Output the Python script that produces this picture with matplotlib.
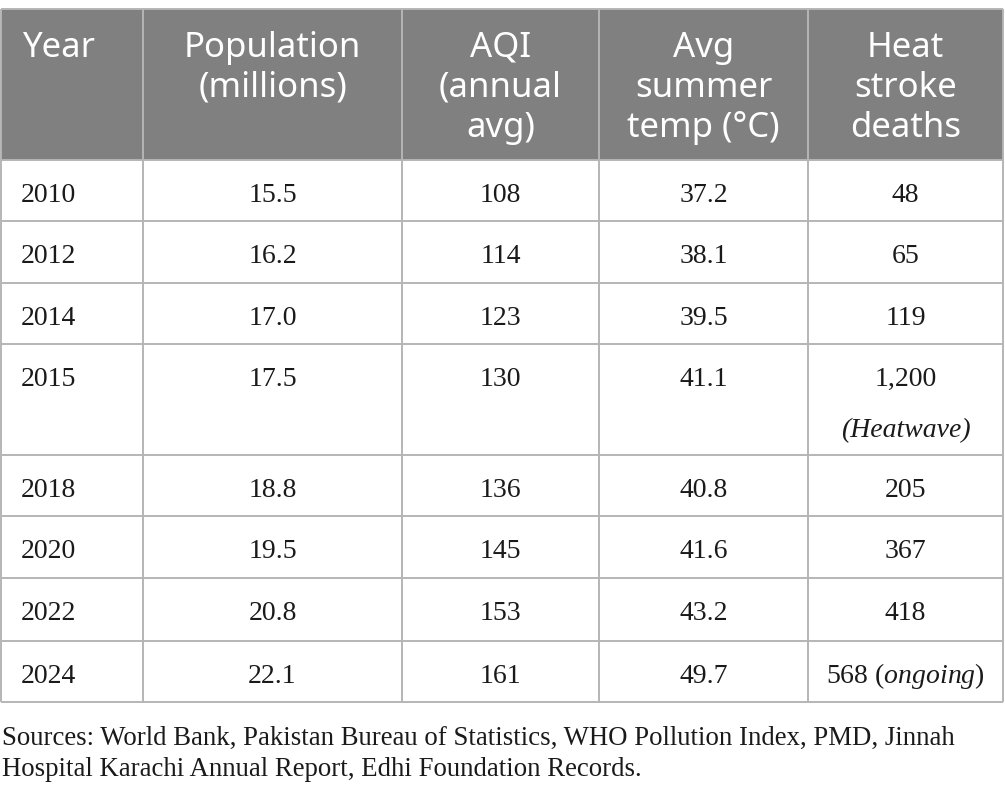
import matplotlib
matplotlib.use("Agg")
import matplotlib.pyplot as plt

plt.rcParams['mathtext.fontset'] = 'custom'
plt.rcParams['mathtext.rm'] = 'Liberation Serif'
plt.rcParams['mathtext.it'] = 'Liberation Serif:italic'

# ---- data ----
headers = [["Year"], ["Population", "(millions)"], ["AQI", "(annual", "avg)"],
           ["Avg", "summer", "temp (°C)"], ["Heat", "stroke", "deaths"]]
years = ["2010", "2012", "2014", "2015", "2018", "2020", "2022", "2024"]
population = ["15.5", "16.2", "17.0", "17.5", "18.8", "19.5", "20.8", "22.1"]
aqi = ["108", "114", "123", "130", "136", "145", "153", "161"]
temp = ["37.2", "38.1", "39.5", "41.1", "40.8", "41.6", "43.2", "49.7"]
deaths = ["48", "65", "119", "1,200", "205", "367", "418", r"568 ($\mathit{ongoing}$)"]
death_notes = ["", "", "", "(Heatwave)", "", "", "", ""]
sources = ["Sources: World Bank, Pakistan Bureau of Statistics, WHO Pollution Index, PMD, Jinnah",
           "Hospital Karachi Annual Report, Edhi Foundation Records."]

# ---- layout (pixel coordinates) ----
W, H = 1005, 795
col_edges = [1, 143, 402, 599, 808, 1003]
table_top = 9
header_bottom = 160
row_edges = [160, 221, 283, 344, 455, 516, 578, 641, 702]
header_bg = "#808080"
grid_col = "#b5b5b5"

fig = plt.figure(figsize=(W / 100, H / 100), dpi=100)
ax = fig.add_axes([0, 0, 1, 1])
ax.set_xlim(0, W)
ax.set_ylim(H, 0)
ax.axis("off")

# header background
ax.add_patch(plt.Rectangle((col_edges[0], table_top), col_edges[-1] - col_edges[0],
                           header_bottom - table_top, facecolor=header_bg,
                           edgecolor="none", zorder=0))

# grid lines
lw = 1.4
for y in [table_top] + row_edges:
    ax.plot([col_edges[0], col_edges[-1]], [y, y], color=grid_col, lw=lw, zorder=2,
            solid_capstyle="butt")
for x in col_edges:
    ax.plot([x, x], [table_top, row_edges[-1]], color=grid_col, lw=lw, zorder=2,
            solid_capstyle="butt")

# header text
hfont = dict(family="Noto Sans", fontsize=25, color="white", fontweight="light")
for ci, lines in enumerate(headers):
    for li, line in enumerate(lines):
        yb = 57 + 40 * li
        if ci == 0:
            ax.text(col_edges[0] + 21, yb, line, ha="left", va="baseline", **hfont)
        else:
            xc = (col_edges[ci] + col_edges[ci + 1]) / 2
            ax.text(xc, yb, line, ha="center", va="baseline", **hfont)

# body text
bfont = dict(family="Liberation Serif", fontsize=20, color="#1a1a1a")
columns = [years, population, aqi, temp, deaths]
for ri in range(len(years)):
    yb = row_edges[ri] + 42
    for ci, col in enumerate(columns):
        val = col[ri]
        if ci == 0:
            ax.text(col_edges[0] + 20, yb, val, ha="left", va="baseline", **bfont)
        else:
            xc = (col_edges[ci] + col_edges[ci + 1]) / 2
            ax.text(xc, yb, val, ha="center", va="baseline", **bfont)
    if death_notes[ri]:
        xc = (col_edges[4] + col_edges[5]) / 2
        ax.text(xc, yb + 51, death_notes[ri], ha="center", va="baseline",
                fontstyle="italic", **bfont)

# sources
for li, line in enumerate(sources):
    ax.text(2, 745 + 31 * li, line, ha="left", va="baseline",
            family="Liberation Serif", fontsize=19.3, color="#1a1a1a")

fig.savefig("out.png", dpi=100)
